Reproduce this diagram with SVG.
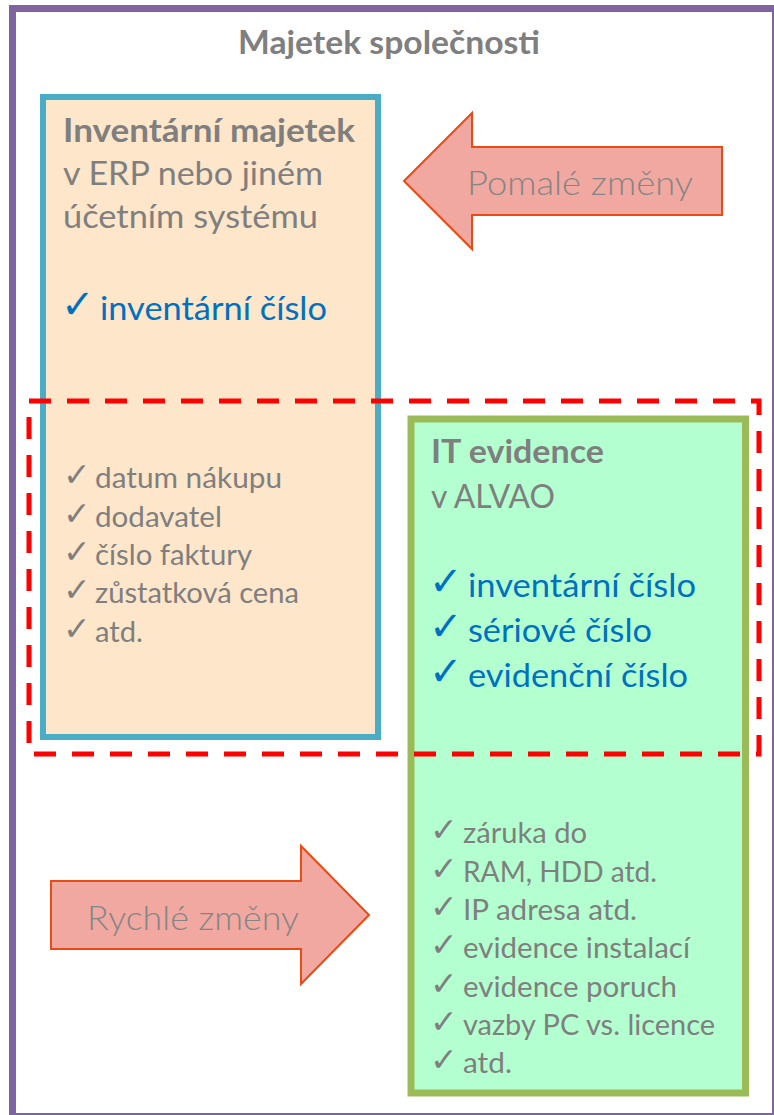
<svg xmlns="http://www.w3.org/2000/svg" width="774" height="1115" viewBox="0 0 774 1115">
  <style>
    .t { font-family: Lato, "Open Sans", "Liberation Sans", sans-serif; }
    .gray { fill: #7F7F7F; }
    .blue { fill: #0070C0; }
    .head { font-size: 33px; }
    .item { font-size: 28.5px; }
    .bold { font-weight: bold; }
    .chk { font-family: "DejaVu Sans", sans-serif; }
    .chkg { font-size: 33px; fill: #7F7F7F; }
    .chkb { font-size: 40px; fill: #0070C0; }
    .arrow { fill: #F0A8A0; stroke: #EA4A14; stroke-width: 2; stroke-linejoin: miter; }
    .atxt { font-family: Lato, "Open Sans", sans-serif; font-weight: 300; font-size: 34px; fill: #858585; }
  </style>

  <rect width="774" height="1115" fill="#FFFFFF"/>

  <g id="container">
    <rect x="12.5" y="8.5" width="763" height="1108" fill="none" stroke="#8064A2" stroke-width="7"/>
    <text class="t gray bold" x="389" y="54" font-size="33" text-anchor="middle" textLength="302" lengthAdjust="spacingAndGlyphs">Majetek společnosti</text>
  </g>

  <g id="inventarni-majetek">
    <rect x="43" y="97" width="335" height="640" fill="#FEE6CA" stroke="#4BACC6" stroke-width="6"/>
    <text class="t gray bold head" x="63" y="142" textLength="292" lengthAdjust="spacingAndGlyphs">Inventární majetek</text>
    <text class="t gray head" x="63" y="185" textLength="260" lengthAdjust="spacingAndGlyphs">v ERP nebo jiném</text>
    <text class="t gray head" x="63" y="228" textLength="255" lengthAdjust="spacingAndGlyphs">účetním systému</text>
    <text class="chk chkb" x="61" y="318">✓</text>
    <text class="t blue head" x="100" y="320" textLength="227" lengthAdjust="spacingAndGlyphs">inventární číslo</text>
    <g>
      <text class="chk chkg" x="63" y="486">✓</text>
      <text class="t gray item" x="95" y="488" textLength="187" lengthAdjust="spacingAndGlyphs">datum nákupu</text>
      <text class="chk chkg" x="63" y="525">✓</text>
      <text class="t gray item" x="95" y="527" textLength="127" lengthAdjust="spacingAndGlyphs">dodavatel</text>
      <text class="chk chkg" x="63" y="563">✓</text>
      <text class="t gray item" x="95" y="565" textLength="157" lengthAdjust="spacingAndGlyphs">číslo faktury</text>
      <text class="chk chkg" x="63" y="601">✓</text>
      <text class="t gray item" x="95" y="603" textLength="204" lengthAdjust="spacingAndGlyphs">zůstatková cena</text>
      <text class="chk chkg" x="63" y="640">✓</text>
      <text class="t gray item" x="95" y="642" textLength="48" lengthAdjust="spacingAndGlyphs">atd.</text>
    </g>
  </g>

  <g id="it-evidence">
    <rect x="411" y="419" width="334.5" height="674" fill="#B3FFD0" stroke="#9BBB59" stroke-width="7"/>
    <text class="t gray bold head" x="431" y="463" textLength="173" lengthAdjust="spacingAndGlyphs">IT evidence</text>
    <text class="t gray head" x="431" y="508" textLength="124" lengthAdjust="spacingAndGlyphs">v ALVAO</text>
    <text class="chk chkb" x="429" y="595">✓</text>
    <text class="t blue head" x="468" y="597" textLength="228" lengthAdjust="spacingAndGlyphs">inventární číslo</text>
    <text class="chk chkb" x="429" y="640">✓</text>
    <text class="t blue head" x="468" y="642" textLength="184" lengthAdjust="spacingAndGlyphs">sériové číslo</text>
    <text class="chk chkb" x="429" y="685">✓</text>
    <text class="t blue head" x="468" y="687" textLength="220" lengthAdjust="spacingAndGlyphs">evidenční číslo</text>
    <g>
      <text class="chk chkg" x="430" y="841">✓</text>
      <text class="t gray item" x="463" y="843" textLength="124" lengthAdjust="spacingAndGlyphs">záruka do</text>
      <text class="chk chkg" x="430" y="880">✓</text>
      <text class="t gray item" x="463" y="882" textLength="194" lengthAdjust="spacingAndGlyphs">RAM, HDD atd.</text>
      <text class="chk chkg" x="430" y="918">✓</text>
      <text class="t gray item" x="463" y="920" textLength="174" lengthAdjust="spacingAndGlyphs">IP adresa atd.</text>
      <text class="chk chkg" x="430" y="956">✓</text>
      <text class="t gray item" x="463" y="958" textLength="227" lengthAdjust="spacingAndGlyphs">evidence instalací</text>
      <text class="chk chkg" x="430" y="995">✓</text>
      <text class="t gray item" x="463" y="997" textLength="214" lengthAdjust="spacingAndGlyphs">evidence poruch</text>
      <text class="chk chkg" x="430" y="1033">✓</text>
      <text class="t gray item" x="463" y="1035" textLength="252" lengthAdjust="spacingAndGlyphs">vazby PC vs. licence</text>
      <text class="chk chkg" x="430" y="1071">✓</text>
      <text class="t gray item" x="463" y="1073" textLength="49" lengthAdjust="spacingAndGlyphs">atd.</text>
    </g>
  </g>

  <g id="connectors">
    <g id="pomale-zmeny">
      <polygon class="arrow" points="404,181 472,113 472,147 722,147 722,215 472,215 472,249"/>
      <text class="atxt" x="467" y="195" textLength="226" lengthAdjust="spacingAndGlyphs">Pomalé změny</text>
    </g>
    <g id="rychle-zmeny">
      <polygon class="arrow" points="51,881 301,881 301,846 369,915 301,984 301,949 51,949"/>
      <text class="atxt" x="87" y="930" textLength="212" lengthAdjust="spacingAndGlyphs">Rychlé změny</text>
    </g>
  </g>

  <g id="shared-identifiers">
    <rect x="29" y="401" width="730" height="353" fill="none" stroke="#FF0000" stroke-width="5" stroke-dasharray="22 16"/>
  </g>
</svg>
